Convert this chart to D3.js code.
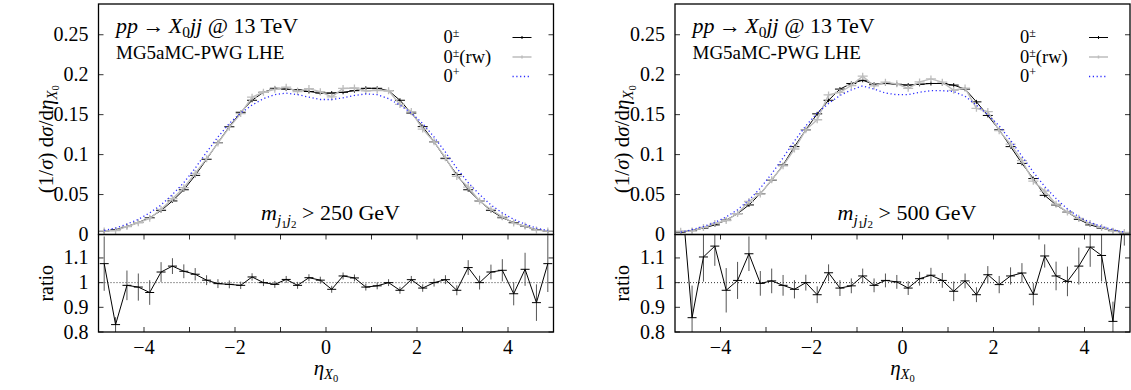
<!DOCTYPE html>
<html>
<head>
<meta charset="utf-8">
<script src="https://cdn.jsdelivr.net/npm/d3@7"></script>
<style>
  body { margin: 0; background: #fff; }
  svg { display: block; font-family: 'Liberation Serif', 'DejaVu Serif', serif; }
</style>
</head>
<body>
<div id="chart"></div>
<script>
// binning: 40 bins of 0.25 in eta from -5 to 5
const binLo = -5, binWidth = 0.25, nBins = 40;

// m_j1j2 > 250 GeV
const sm250 = [0.004, 0.006, 0.010, 0.015, 0.021, 0.030, 0.042, 0.056, 0.074, 0.094,
               0.115, 0.135, 0.153, 0.168, 0.178, 0.183, 0.182, 0.181, 0.179, 0.177,
               0.177, 0.178, 0.180, 0.183, 0.183, 0.180, 0.168, 0.152, 0.135, 0.116,
               0.095, 0.075, 0.056, 0.042, 0.030, 0.021, 0.015, 0.010, 0.006, 0.004];
const rw250 = [0.0043, 0.0050, 0.0099, 0.0147, 0.0202, 0.0313, 0.0448, 0.0586, 0.0765, 0.0949,
               0.1145, 0.1341, 0.1513, 0.1719, 0.1780, 0.1817, 0.1844, 0.1790, 0.1826, 0.1788,
               0.1722, 0.1828, 0.1834, 0.1797, 0.1806, 0.1800, 0.1628, 0.1538, 0.1320, 0.1160,
               0.0961, 0.0727, 0.0594, 0.0420, 0.0313, 0.0221, 0.0143, 0.0105, 0.0055, 0.0043];
const even250 = [0.005, 0.008, 0.013, 0.019, 0.027, 0.037, 0.050, 0.065, 0.083, 0.103,
                 0.122, 0.139, 0.152, 0.162, 0.170, 0.175, 0.177, 0.175, 0.172, 0.169,
                 0.169, 0.171, 0.174, 0.176, 0.175, 0.170, 0.162, 0.152, 0.139, 0.122,
                 0.103, 0.083, 0.065, 0.050, 0.037, 0.027, 0.019, 0.013, 0.008, 0.005];
const ratio250 = [1.077, 0.830, 0.989, 0.982, 0.960, 1.043, 1.067, 1.046, 1.034, 1.010,
                  0.996, 0.993, 0.989, 1.023, 1.000, 0.993, 1.013, 0.989, 1.020, 1.010,
                  0.973, 1.027, 1.019, 0.982, 0.987, 1.000, 0.969, 1.012, 0.978, 1.000,
                  1.012, 0.969, 1.061, 1.000, 1.043, 1.050, 0.955, 1.054, 0.919, 1.077];
const ratioErr250 = [0.110, 0.030, 0.060, 0.055, 0.050, 0.040, 0.032, 0.028, 0.025, 0.020,
                     0.018, 0.016, 0.015, 0.015, 0.014, 0.014, 0.014, 0.014, 0.014, 0.014,
                     0.014, 0.014, 0.014, 0.014, 0.014, 0.014, 0.014, 0.015, 0.015, 0.016,
                     0.018, 0.020, 0.030, 0.028, 0.030, 0.045, 0.047, 0.067, 0.074, 0.115];

// m_j1j2 > 500 GeV
const sm500 = [0.003, 0.005, 0.008, 0.012, 0.018, 0.026, 0.037, 0.051, 0.068, 0.087,
               0.110, 0.131, 0.151, 0.168, 0.182, 0.189, 0.193, 0.188, 0.189, 0.188,
               0.187, 0.188, 0.189, 0.189, 0.187, 0.182, 0.166, 0.149, 0.131, 0.110,
               0.089, 0.070, 0.049, 0.037, 0.028, 0.019, 0.012, 0.008, 0.005, 0.002];
const rw500 = [0.0042, 0.0043, 0.0088, 0.0138, 0.0174, 0.0262, 0.0413, 0.0508, 0.0685, 0.0860,
               0.1070, 0.1310, 0.1436, 0.1747, 0.1780, 0.1865, 0.1982, 0.1859, 0.1907, 0.1886,
               0.1829, 0.1910, 0.1947, 0.1907, 0.1805, 0.1833, 0.1579, 0.1538, 0.1300, 0.1130,
               0.0925, 0.0667, 0.0543, 0.0380, 0.0281, 0.0203, 0.0137, 0.0089, 0.0042, 0.0026];
const even500 = [0.003, 0.006, 0.010, 0.015, 0.022, 0.031, 0.043, 0.058, 0.076, 0.096,
                 0.117, 0.136, 0.152, 0.164, 0.174, 0.181, 0.186, 0.182, 0.177, 0.175,
                 0.175, 0.178, 0.180, 0.180, 0.179, 0.173, 0.162, 0.150, 0.136, 0.118,
                 0.098, 0.078, 0.060, 0.045, 0.032, 0.022, 0.015, 0.010, 0.006, 0.003];
const ratio500 = [1.400, 0.858, 1.104, 1.148, 0.969, 1.009, 1.117, 0.997, 1.007, 0.989,
                  0.973, 1.000, 0.951, 1.040, 0.978, 0.987, 1.027, 0.989, 1.009, 1.003,
                  0.978, 1.016, 1.030, 1.009, 0.965, 1.007, 0.951, 1.032, 0.992, 1.027,
                  1.039, 0.953, 1.108, 1.027, 1.005, 1.067, 1.144, 1.110, 0.843, 1.300];
const ratioErr500 = [0.150, 0.130, 0.100, 0.080, 0.090, 0.075, 0.070, 0.050, 0.050, 0.042,
                     0.037, 0.032, 0.034, 0.034, 0.032, 0.030, 0.030, 0.028, 0.028, 0.028,
                     0.028, 0.028, 0.030, 0.030, 0.040, 0.030, 0.030, 0.035, 0.035, 0.035,
                     0.040, 0.045, 0.047, 0.058, 0.060, 0.075, 0.080, 0.105, 0.080, 0.150];

const xTicks = [-4, -2, 0, 2, 4];
const xMinor = [-4, -3, -2, -1, 0, 1, 2, 3, 4];
const yTicks = [0, 0.05, 0.1, 0.15, 0.2, 0.25];
const ratioTicks = [0.8, 0.9, 1, 1.1];
const cuts = ['250', '500'];

const W = 1131, H = 390;
const FS = 20;
const panelW = 455, mainTop = 4, mainBot = 234.5, ratBot = 332;
const panelLeft = [98.5, 675];

const svg = d3.select('#chart').append('svg')
  .attr('width', W).attr('height', H)
  .style('font-size', FS + 'px');

// rich text: parts with optional italic, size factor and vertical offset (px, + is down)
function rich(sel, parts, base) {
  const fs = base || FS;
  let cur = 0;
  sel.style('font-size', fs + 'px');
  parts.forEach(p => {
    const off = p.dy || 0;
    const ts = sel.append('tspan').text(p.t)
      .attr('dy', (off - cur) + 'px')
      .style('font-size', (fs * (p.sz || 1)) + 'px');
    if (p.it) ts.style('font-style', 'italic');
    cur = off;
  });
  return sel;
}

const bins = d3.range(nBins).map(i => binLo + binWidth * (i + 0.5));

function drawPanel(pi, sm, rw, even, ratio, rerr) {
  const x0 = panelLeft[pi];
  const x = d3.scaleLinear().domain([-5, 5]).range([x0, x0 + panelW]);
  const y = d3.scaleLinear().domain([0, 0.2885]).range([mainBot, mainTop]);
  const yr = d3.scaleLinear().domain([0.8, 1.195]).range([ratBot, mainBot]);
  const g = svg.append('g');

  const clipM = 'clipM' + pi, clipR = 'clipR' + pi;
  g.append('clipPath').attr('id', clipM).append('rect')
    .attr('x', x0).attr('y', mainTop).attr('width', panelW).attr('height', mainBot - mainTop);
  g.append('clipPath').attr('id', clipR).append('rect')
    .attr('x', x0).attr('y', mainBot).attr('width', panelW).attr('height', ratBot - mainBot);

  // ---- main panel curves
  const m = g.append('g').attr('clip-path', `url(#${clipM})`);
  const line = arr => d3.line().x((d, i) => x(bins[i])).y(d => y(d))(arr);

  m.append('path').attr('d', line(sm)).attr('fill', 'none')
    .attr('stroke', '#000').attr('stroke-width', 1);
  m.selectAll('.smk').data(sm).enter().append('path')
    .attr('d', (d, i) => `M${x(bins[i]) - 5},${y(d)}H${x(bins[i]) + 5}M${x(bins[i])},${y(d) - 2}V${y(d) + 2}`)
    .attr('stroke', '#000').attr('stroke-width', 1);

  m.append('path').attr('d', line(rw)).attr('fill', 'none')
    .attr('stroke', '#bdbdbd').attr('stroke-width', 1.4);
  m.selectAll('.rwk').data(rw).enter().append('path')
    .attr('d', (d, i) => `M${x(bins[i]) - 5},${y(d)}H${x(bins[i]) + 5}M${x(bins[i])},${y(d) - 3.5}V${y(d) + 3.5}`)
    .attr('stroke', '#bdbdbd').attr('stroke-width', 1.3);

  m.append('path').attr('d', line(even)).attr('fill', 'none')
    .attr('stroke', '#2a2aff').attr('stroke-width', 1.3).attr('stroke-dasharray', '1.2,2.6');

  // ---- ratio panel
  const r = g.append('g').attr('clip-path', `url(#${clipR})`);
  r.append('line').attr('x1', x0).attr('x2', x0 + panelW)
    .attr('y1', yr(1)).attr('y2', yr(1))
    .attr('stroke', '#000').attr('stroke-width', 0.8).attr('stroke-dasharray', '1,2');
  r.selectAll('.err').data(ratio).enter().append('line')
    .attr('x1', (d, i) => x(bins[i])).attr('x2', (d, i) => x(bins[i]))
    .attr('y1', (d, i) => yr(d - rerr[i])).attr('y2', (d, i) => yr(d + rerr[i]))
    .attr('stroke', '#555').attr('stroke-width', 1);
  r.append('path')
    .attr('d', d3.line().x((d, i) => x(bins[i])).y(d => yr(d))(ratio))
    .attr('fill', 'none').attr('stroke', '#000').attr('stroke-width', 1);
  r.selectAll('.rmk').data(ratio).enter().append('line')
    .attr('x1', (d, i) => x(bins[i]) - 4.5).attr('x2', (d, i) => x(bins[i]) + 4.5)
    .attr('y1', d => yr(d)).attr('y2', d => yr(d))
    .attr('stroke', '#000').attr('stroke-width', 1);

  // ---- frames and ticks
  const tk = 5;
  const ticks = g.append('g').attr('stroke', '#333').attr('stroke-width', 1);
  yTicks.forEach(v => {
    ticks.append('line').attr('x1', x0).attr('x2', x0 + tk).attr('y1', y(v)).attr('y2', y(v));
    ticks.append('line').attr('x1', x0 + panelW).attr('x2', x0 + panelW - tk).attr('y1', y(v)).attr('y2', y(v));
  });
  ratioTicks.forEach(v => {
    ticks.append('line').attr('x1', x0).attr('x2', x0 + tk).attr('y1', yr(v)).attr('y2', yr(v));
    ticks.append('line').attr('x1', x0 + panelW).attr('x2', x0 + panelW - tk).attr('y1', yr(v)).attr('y2', yr(v));
  });
  xMinor.forEach(v => {
    ticks.append('line').attr('x1', x(v)).attr('x2', x(v)).attr('y1', mainBot).attr('y2', mainBot + tk);
    ticks.append('line').attr('x1', x(v)).attr('x2', x(v)).attr('y1', ratBot).attr('y2', ratBot - tk);
  });

  g.append('rect').attr('x', x0).attr('y', mainTop).attr('width', panelW).attr('height', mainBot - mainTop)
    .attr('fill', 'none').attr('stroke', '#000').attr('stroke-width', 1.3);
  g.append('rect').attr('x', x0).attr('y', mainBot).attr('width', panelW).attr('height', ratBot - mainBot)
    .attr('fill', 'none').attr('stroke', '#000').attr('stroke-width', 1.3);

  // ---- tick labels
  const fmtX = d3.format('d');
  xTicks.forEach(v => {
    g.append('text').attr('x', x(v)).attr('y', 354).attr('text-anchor', 'middle').text(fmtX(v));
  });
  yTicks.forEach(v => {
    g.append('text').attr('x', x0 - 10).attr('y', y(v) + 6.5).attr('text-anchor', 'end').text(String(v));
  });
  ratioTicks.forEach(v => {
    g.append('text').attr('x', x0 - 10).attr('y', yr(v) + 6.5).attr('text-anchor', 'end').text(String(v));
  });

  // ---- axis titles
  rich(g.append('text').attr('text-anchor', 'middle')
    .attr('transform', `translate(${x0 - 46},${(mainTop + mainBot) / 2 + 20}) rotate(-90)`), [
    { t: '(1/' }, { t: 'σ', it: true }, { t: ') d' }, { t: 'σ', it: true }, { t: '/d' },
    { t: 'η', it: true }, { t: 'X', it: true, sz: 0.7, dy: 4 }, { t: '0', sz: 0.5, dy: 6.5 }
  ], 21);
  g.append('text').attr('text-anchor', 'middle')
    .attr('transform', `translate(${x0 - 46},${(mainBot + ratBot) / 2}) rotate(-90)`)
    .text('ratio');
  rich(g.append('text').attr('x', x(0)).attr('y', 375).attr('text-anchor', 'middle'), [
    { t: 'η', it: true }, { t: 'X', it: true, sz: 0.7, dy: 4 }, { t: '0', sz: 0.5, dy: 6.5 }
  ], 21);

  // ---- labels inside
  rich(g.append('text').attr('x', x0 + 17.5).attr('y', 33), [
    { t: 'pp', it: true }, { t: '\u2009→\u2009' }, { t: 'X', it: true },
    { t: '0', sz: 0.7, dy: 4 }, { t: 'jj', it: true, dy: 0 }, { t: ' @ 13 TeV' }
  ], 22);
  g.append('text').attr('x', x0 + 17.5).attr('y', 59).style('font-size', '19px')
    .text('MG5aMC-PWG LHE');
  rich(g.append('text').attr('x', x0 + 232).attr('y', 220).attr('text-anchor', 'middle'), [
    { t: 'm', it: true }, { t: 'j', it: true, sz: 0.7, dy: 5 }, { t: '1', sz: 0.5, dy: 7.5 },
    { t: 'j', it: true, sz: 0.7, dy: 5 }, { t: '2', sz: 0.5, dy: 7.5 },
    { t: ' > ' + cuts[pi] + ' GeV', dy: 0 }
  ], 22);

  // ---- legend (text left-aligned, sample line on the right)
  const legRows = [
    { sup: '±', rest: '', stroke: '#000', w: 1, dash: null, y: 37.5 },
    { sup: '±', rest: '(rw)', stroke: '#bdbdbd', w: 1.5, dash: null, y: 57 },
    { sup: '+', rest: '', stroke: '#2a2aff', w: 1.3, dash: '1.2,2.6', y: 76.5 }
  ];
  legRows.forEach(row => {
    const parts = [{ t: '0' }, { t: row.sup, sz: 0.65, dy: -6 }];
    if (row.rest) parts.push({ t: row.rest, dy: 0 });
    rich(g.append('text').attr('x', x0 + 345).attr('y', row.y + 5.5).attr('text-anchor', 'start'), parts, 18.5);
    const l = g.append('line').attr('x1', x0 + 414).attr('x2', x0 + 433)
      .attr('y1', row.y).attr('y2', row.y)
      .attr('stroke', row.stroke).attr('stroke-width', row.w);
    if (row.dash) l.attr('stroke-dasharray', row.dash);
    else g.append('line').attr('x1', x0 + 423.5).attr('x2', x0 + 423.5)
      .attr('y1', row.y - 1.5).attr('y2', row.y + 1.5)
      .attr('stroke', row.stroke).attr('stroke-width', row.w);
  });
}

drawPanel(0, sm250, rw250, even250, ratio250, ratioErr250);
drawPanel(1, sm500, rw500, even500, ratio500, ratioErr500);
</script>
</body>
</html>
